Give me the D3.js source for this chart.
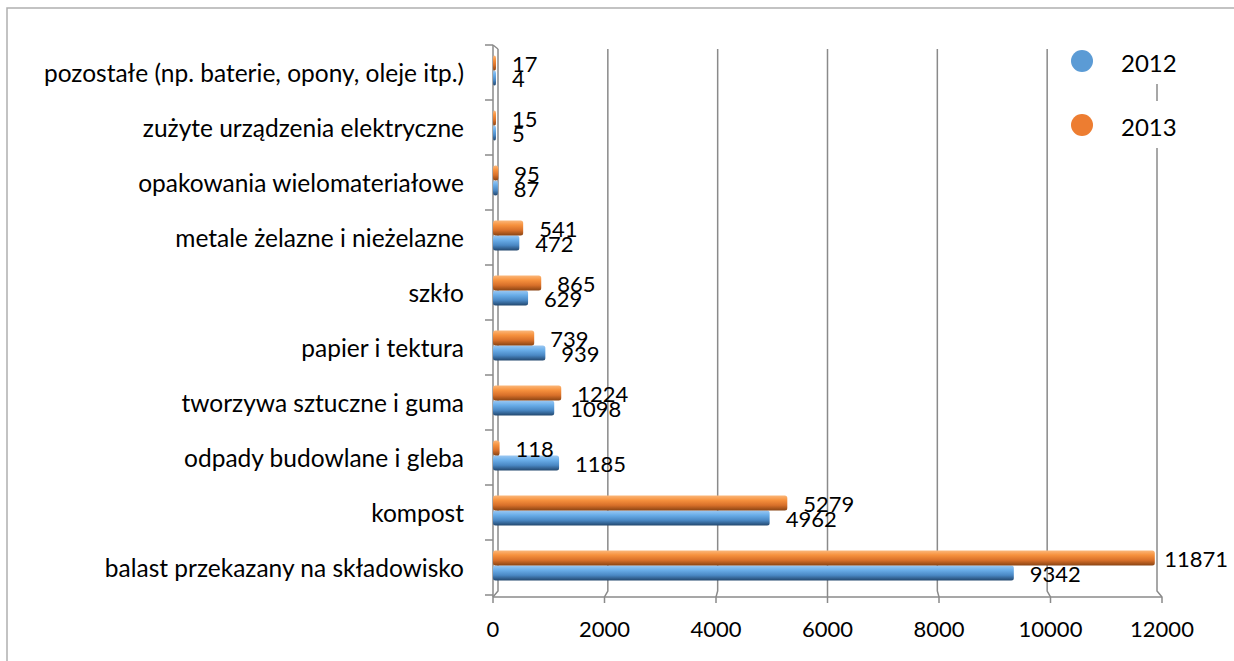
<!DOCTYPE html>
<html>
<head>
<meta charset="utf-8">
<script src="https://cdn.jsdelivr.net/npm/d3@7"></script>
<style>
  body { margin: 0; background: #fff; }
  svg { display: block; }
</style>
</head>
<body>
<script>
// kategorie od góry do dołu
const categories = [
    "pozostałe (np. baterie, opony, oleje itp.)",
    "zużyte urządzenia elektryczne",
    "opakowania wielomateriałowe",
    "metale żelazne i nieżelazne",
    "szkło",
    "papier i tektura",
    "tworzywa sztuczne i guma",
    "odpady budowlane i gleba",
    "kompost",
    "balast przekazany na składowisko",
];
const values2012 = [4, 5, 87, 472, 629, 939, 1098, 1185, 4962, 9342];
const values2013 = [17, 15, 95, 541, 865, 739, 1224, 118, 5279, 11871];
const seriesNames = ["2012", "2013"];
const xTicks = [0, 2000, 4000, 6000, 8000, 10000, 12000];

const W = 1234, H = 661;
const FONT = "Lato, 'Open Sans', sans-serif";
const colors = { "2012": "#5B9BD5", "2013": "#ED7D31" };

const svg = d3.select("body").append("svg").attr("width", W).attr("height", H);

// gradienty walca
const defs = svg.append("defs");
const gradStops = {
    "2012": [["0%", "#9cc8f2"], ["30%", "#6aaee9"], ["65%", "#4a88c4"], ["100%", "#22476e"]],
    "2013": [["0%", "#fbb77a"], ["30%", "#f7923e"], ["65%", "#d8702a"], ["100%", "#8a4413"]],
};
seriesNames.forEach((s) => {
    const g = defs.append("linearGradient").attr("id", "g" + s)
        .attr("x1", 0).attr("y1", 0).attr("x2", 0).attr("y2", 1);
    gradStops[s].forEach(([o, c]) => g.append("stop").attr("offset", o).attr("stop-color", c));
});

// ramka wykresu
svg.append("path")
    .attr("d", `M7,${H} L7,8 L${W},8`)
    .attr("fill", "none").attr("stroke", "#b0b0b0").attr("stroke-width", 1.5);

const plotTop = 45, plotBottom = 595;
const xFront = d3.scaleLinear().domain([0, 12000]).range([493, 1162]);
const xBack = d3.scaleLinear().domain([0, 12000]).range([498, 1157]);
const y = d3.scaleBand().domain(categories).range([plotTop, plotBottom]);
const ySub = d3.scaleBand().domain(["2013", "2012"]).range([10.5, 40.5]);

const axisColor = "#8a8a8a";
const grid = svg.append("g").attr("fill", "none").attr("stroke", axisColor).attr("stroke-width", 1.5);

// linie siatki na tylnej ścianie
xTicks.forEach((t) => {
    grid.append("path")
        .attr("d", `M${xBack(t)},${plotTop + 4} L${xBack(t)},${plotBottom - 4} L${xFront(t)},${plotBottom + 2} L${xFront(t)},${plotBottom + 8}`);
});
// podłoga
grid.append("line")
    .attr("x1", xFront(0)).attr("x2", xFront(12000))
    .attr("y1", plotBottom + 2).attr("y2", plotBottom + 2);
// oś pionowa z przodu
grid.append("path").attr("d", `M${xFront(0)},${plotTop} L${xFront(0)},${plotBottom + 2}`);
grid.append("path").attr("d", `M${xFront(0)},${plotTop} L${xBack(0)},${plotTop + 4}`);
// znaczniki osi Y
d3.range(categories.length + 1).forEach((i) => {
    const yy = plotTop + i * y.bandwidth();
    grid.append("line").attr("x1", 485).attr("x2", xFront(0)).attr("y1", yy).attr("y2", yy);
});

// etykiety osi X
svg.append("g").selectAll("text").data(xTicks).join("text")
    .attr("x", (d) => xFront(d))
    .attr("y", 637)
    .attr("text-anchor", "middle")
    .attr("font-family", FONT).attr("font-size", 22)
    .attr("fill", "#000")
    .text((d) => d);

// etykiety kategorii
svg.append("g").selectAll("text").data(categories).join("text")
    .attr("x", 464)
    .attr("y", (d) => y(d) + y.bandwidth() / 2 + 9.5)
    .attr("text-anchor", "end")
    .attr("font-family", FONT).attr("font-size", 24.5)
    .attr("fill", "#000")
    .text((d) => d);

const rows = [];
categories.forEach((c, i) => {
    rows.push({ cat: c, series: "2012", value: values2012[i] });
    rows.push({ cat: c, series: "2013", value: values2013[i] });
});

// słupki
const bars = svg.append("g");
bars.selectAll("rect").data(rows).join("rect")
    .attr("x", xFront(0))
    .attr("y", (d) => y(d.cat) + ySub(d.series))
    .attr("width", (d) => Math.max(3, xFront(d.value) - xFront(0)))
    .attr("height", ySub.bandwidth())
    .attr("rx", 2.5)
    .attr("fill", (d) => `url(#g${d.series})`);

// etykiety wartości
svg.append("g").selectAll("text").data(rows).join("text")
    .attr("x", (d) => Math.max(xFront(d.value), xFront(0) + 3) + 16)
    .attr("y", (d) => y(d.cat) + ySub(d.series) + ySub.bandwidth() / 2 + 9)
    .attr("font-family", FONT).attr("font-size", 22)
    .attr("fill", "#000")
    .text((d) => d.value)
    .each(function () {
        const bb = this.getBBox();
        if (bb.x + bb.width > 1228) d3.select(this).attr("x", 1228 - bb.width);
    });

// legenda
const legend = svg.append("g");
const legendY = { "2012": 61, "2013": 125 };
seriesNames.forEach((s) => {
    const cy = legendY[s];
    legend.append("rect").attr("x", 1062).attr("y", cy - 24).attr("width", 140).attr("height", 47).attr("fill", "#fff");
    legend.append("circle").attr("cx", 1082).attr("cy", cy).attr("r", 11).attr("fill", colors[s]);
    legend.append("text").attr("x", 1121).attr("y", cy + 11)
        .attr("font-family", FONT).attr("font-size", 24).attr("fill", "#000")
        .text(s);
});
</script>
</body>
</html>
